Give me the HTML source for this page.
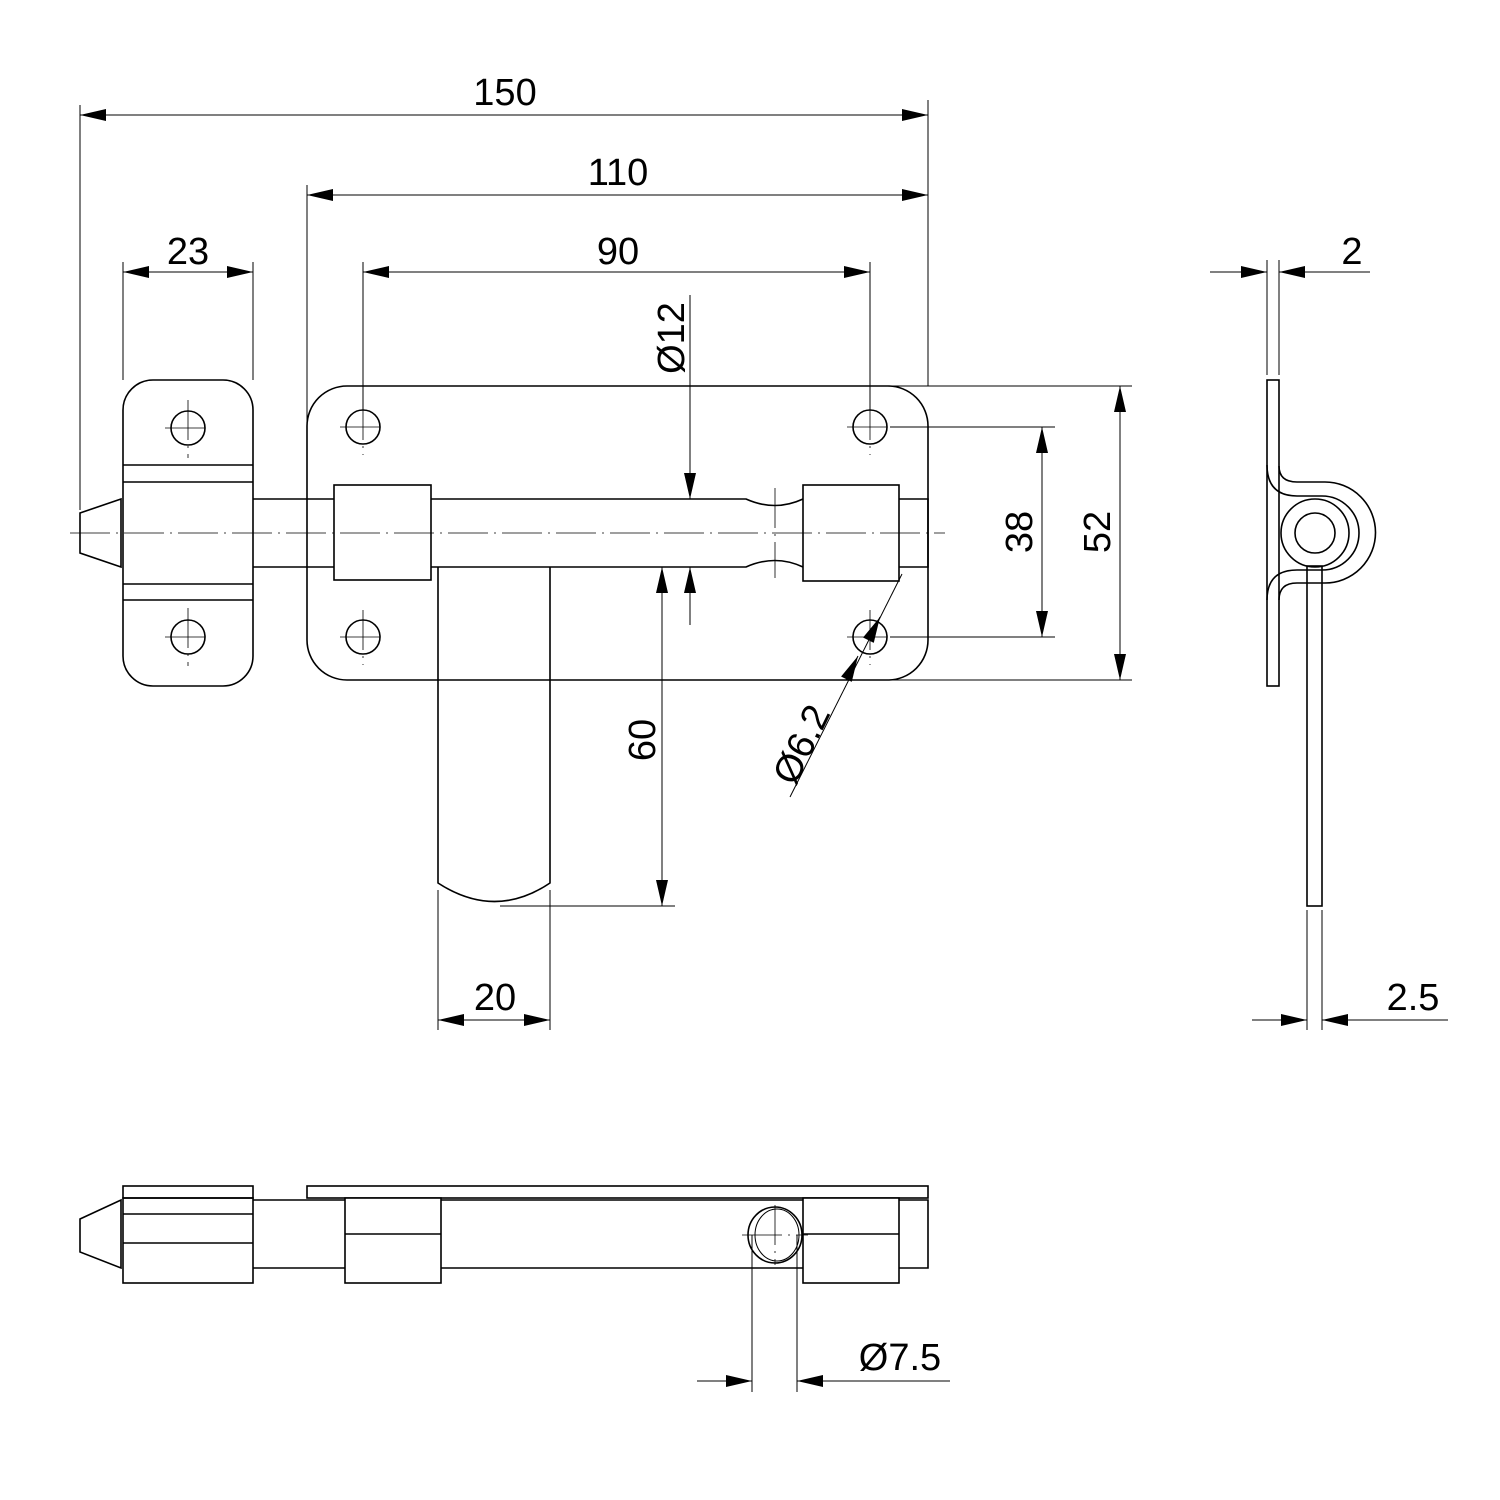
<!DOCTYPE html>
<html><head><meta charset="utf-8"><style>html,body{margin:0;padding:0;background:#fff}svg{display:block}text{font-family:"Liberation Sans",sans-serif;font-size:38px;fill:#000}</style></head><body>
<svg width="1500" height="1500" viewBox="0 0 1500 1500" xmlns="http://www.w3.org/2000/svg">
<defs>
<marker id="a" markerUnits="userSpaceOnUse" markerWidth="26" markerHeight="12" refX="26" refY="6" orient="auto-start-reverse"><path d="M0 0 L26 6 L0 12 z" fill="#000"/></marker>
</defs>
<g fill="none" stroke="#000" stroke-width="1.6">
<rect x="123" y="380" width="130" height="306" rx="30"/>
<line x1="123" y1="465" x2="253" y2="465"/><line x1="123" y1="482" x2="253" y2="482"/>
<line x1="123" y1="584" x2="253" y2="584"/><line x1="123" y1="600" x2="253" y2="600"/>
<circle cx="188" cy="428" r="17"/><circle cx="188" cy="637" r="17"/>
<rect x="307" y="386" width="621" height="294" rx="40"/>
<circle cx="363" cy="427" r="17"/><circle cx="870" cy="427" r="17"/><circle cx="363" cy="637" r="17"/><circle cx="870" cy="637" r="17"/>
<path d="M80 513 L121 499 L121 567 L80 553 Z"/>
<path d="M253 499 H746 Q775 512 803 499 M253 567 H746 Q775 554 803 567 M899 499 H928 V567 H899"/>
<rect x="334" y="485" width="97" height="95" fill="#fff"/>
<rect x="803" y="485" width="96" height="96"/>
<path d="M438 567 V883 Q495 920 550 883 V567"/>
<rect x="1267" y="380" width="12" height="306"/>
<rect x="1307" y="566" width="15" height="340"/>
<path d="M1279 466 Q1279 482 1297 482 H1325 A50 50 0 0 1 1325 583 H1297 Q1279 583 1279 600"/>
<path d="M1267 465 Q1267 496 1297 496 H1322 A37 37 0 0 1 1322 570 H1297 Q1267 570 1267 600"/>
<circle cx="1315" cy="533" r="34"/><circle cx="1315" cy="533" r="20"/>
<rect x="123" y="1186" width="130" height="12"/>
<rect x="307" y="1186" width="621" height="12"/>
<rect x="123" y="1198" width="130" height="85"/>
<line x1="123" y1="1214" x2="253" y2="1214"/><line x1="123" y1="1243" x2="253" y2="1243"/>
<path d="M80 1219 L121 1200 L121 1268 L80 1252 Z"/>
<path d="M253 1200 H928 V1268 H253"/>
<rect x="345" y="1198" width="96" height="85" fill="#fff"/><line x1="345" y1="1234" x2="441" y2="1234"/>
<rect x="803" y="1198" width="96" height="85" fill="#fff"/><line x1="803" y1="1234" x2="899" y2="1234"/>
<ellipse cx="775" cy="1235" rx="27" ry="28"/>
<ellipse cx="777" cy="1235" rx="22" ry="26" stroke-width="1"/>
</g>
<g fill="none" stroke="#000" stroke-width="1">
<line x1="80" y1="105" x2="80" y2="510"/><line x1="928" y1="100" x2="928" y2="386"/>
<line x1="307" y1="185" x2="307" y2="500"/><line x1="123" y1="262" x2="123" y2="380"/><line x1="253" y1="262" x2="253" y2="380"/>
<line x1="363" y1="262" x2="363" y2="410"/><line x1="870" y1="262" x2="870" y2="410"/>
<line x1="80" y1="115" x2="928" y2="115" marker-start="url(#a)" marker-end="url(#a)"/>
<line x1="307" y1="195" x2="928" y2="195" marker-start="url(#a)" marker-end="url(#a)"/>
<line x1="363" y1="272" x2="870" y2="272" marker-start="url(#a)" marker-end="url(#a)"/>
<line x1="123" y1="272" x2="253" y2="272" marker-start="url(#a)" marker-end="url(#a)"/>
<line x1="690" y1="295" x2="690" y2="499" marker-end="url(#a)"/>
<line x1="690" y1="625" x2="690" y2="567" marker-end="url(#a)"/>
<line x1="662" y1="567" x2="662" y2="906" marker-start="url(#a)" marker-end="url(#a)"/>
<line x1="500" y1="906" x2="675" y2="906"/>
<line x1="438" y1="890" x2="438" y2="1030"/><line x1="550" y1="890" x2="550" y2="1030"/>
<line x1="438" y1="1020" x2="550" y2="1020" marker-start="url(#a)" marker-end="url(#a)"/>
<line x1="890" y1="427" x2="1055" y2="427"/><line x1="890" y1="637" x2="1055" y2="637"/>
<line x1="890" y1="386" x2="1132" y2="386"/><line x1="890" y1="680" x2="1132" y2="680"/>
<line x1="1042" y1="427" x2="1042" y2="637" marker-start="url(#a)" marker-end="url(#a)"/>
<line x1="1120" y1="386" x2="1120" y2="680" marker-start="url(#a)" marker-end="url(#a)"/>
<line x1="902" y1="574" x2="790" y2="797"/>
<line x1="880" y1="617" x2="870" y2="637" marker-start="url(#a)"/>
<path d="M846 680 L858 656" marker-end="url(#a)"/>
<line x1="1267" y1="260" x2="1267" y2="375"/><line x1="1279" y1="260" x2="1279" y2="375"/>
<line x1="1210" y1="272" x2="1267" y2="272" marker-end="url(#a)"/>
<line x1="1370" y1="272" x2="1279" y2="272" marker-end="url(#a)"/>
<line x1="1307" y1="910" x2="1307" y2="1030"/><line x1="1322" y1="910" x2="1322" y2="1030"/>
<line x1="1252" y1="1020" x2="1307" y2="1020" marker-end="url(#a)"/>
<line x1="1448" y1="1020" x2="1322" y2="1020" marker-end="url(#a)"/>
<line x1="752" y1="1235" x2="752" y2="1392"/><line x1="797" y1="1235" x2="797" y2="1392"/>
<line x1="697" y1="1381" x2="752" y2="1381" marker-end="url(#a)"/>
<line x1="950" y1="1381" x2="797" y2="1381" marker-end="url(#a)"/>
</g>
<g fill="none" stroke="#000" stroke-width="0.8" stroke-dasharray="40 6 2 6">
<line x1="70" y1="533" x2="945" y2="533"/>
<line x1="165" y1="428" x2="211" y2="428"/><line x1="188" y1="400" x2="188" y2="458"/>
<line x1="165" y1="637" x2="211" y2="637"/><line x1="188" y1="608" x2="188" y2="666"/>
<line x1="340" y1="427" x2="386" y2="427"/><line x1="363" y1="400" x2="363" y2="455"/>
<line x1="340" y1="637" x2="386" y2="637"/><line x1="363" y1="610" x2="363" y2="665"/>
<line x1="847" y1="427" x2="893" y2="427"/><line x1="870" y1="400" x2="870" y2="455"/>
<line x1="847" y1="637" x2="893" y2="637"/><line x1="870" y1="610" x2="870" y2="665"/>
<line x1="775" y1="488" x2="775" y2="578"/>
<line x1="742" y1="1235" x2="808" y2="1235"/><line x1="775" y1="1205" x2="775" y2="1265"/>
</g>
<text x="505" y="105" text-anchor="middle">150</text>
<text x="618" y="185" text-anchor="middle">110</text>
<text x="618" y="264" text-anchor="middle">90</text>
<text x="188" y="264" text-anchor="middle">23</text>
<text x="495" y="1010" text-anchor="middle">20</text>
<text x="1352" y="264" text-anchor="middle">2</text>
<text x="1413" y="1010" text-anchor="middle">2.5</text>
<text x="900" y="1370" text-anchor="middle">Ø7.5</text>
<text transform="translate(684,338) rotate(-90)" text-anchor="middle">Ø12</text>
<text transform="translate(655,740) rotate(-90)" text-anchor="middle">60</text>
<text transform="translate(1032,532) rotate(-90)" text-anchor="middle">38</text>
<text transform="translate(1110,532) rotate(-90)" text-anchor="middle">52</text>
<text transform="translate(813,750) rotate(-64)" text-anchor="middle">Ø6.2</text>
</svg>
</body></html>
